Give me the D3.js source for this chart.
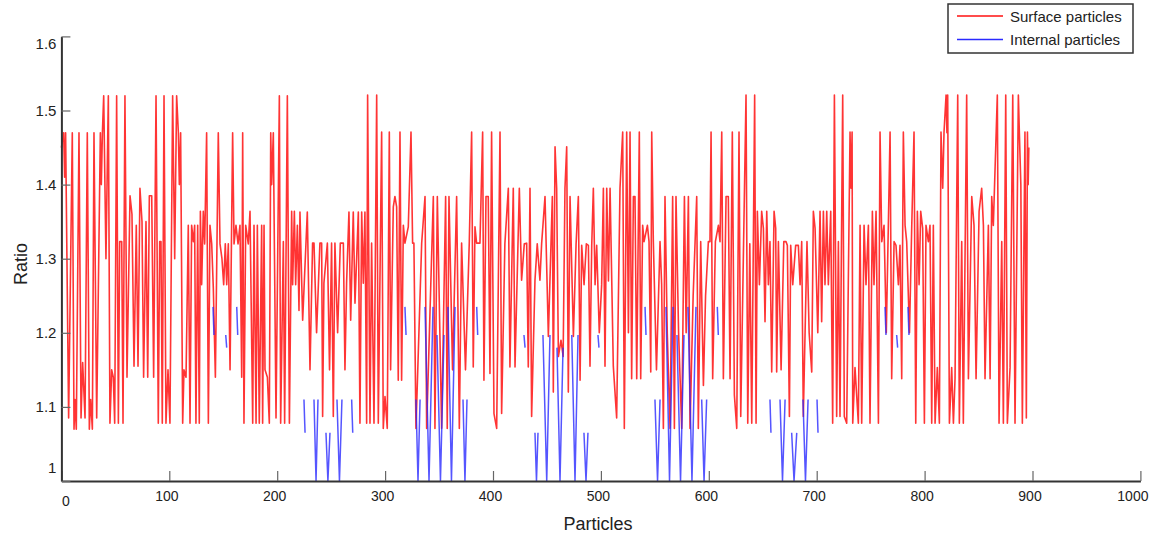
<!DOCTYPE html>
<html>
<head>
<meta charset="utf-8">
<script src="https://cdn.jsdelivr.net/npm/d3@7"></script>
<style>
    body { margin: 0; background: #fff; }
    text { font-family: "Liberation Sans", Arial, sans-serif; fill: #222; }
</style>
</head>
<body>
<svg width="1155" height="543"></svg>
<script>
const W = 1155, H = 543;

const xTicks = [0, 100, 200, 300, 400, 500, 600, 700, 800, 900, 1000];
const yTicks = [1, 1.1, 1.2, 1.3, 1.4, 1.5, 1.6];
const seriesNames = ['Surface particles', 'Internal particles'];

// Surface particles: [particle, ratio]
const surface = [
    [0,1.45],[2.1,1.47],[3,1.41],[3.9,1.47],[6.7,1.085],[10.1,1.47],[11.7,1.07],[12.6,1.11],[13.8,1.07],[16.3,1.47],
    [18.2,1.085],[19.7,1.16],[21.9,1.085],[24,1.47],[25.9,1.07],[27.1,1.11],[28.7,1.07],[30.2,1.47],[32.7,1.085],[36.1,1.47],
    [37,1.40],[38,1.47],[39.2,1.52],[41.3,1.30],[43.5,1.52],[45,1.078],[46.6,1.15],[48.1,1.14],[49.4,1.078],[51.2,1.52],
    [52.8,1.078],[54,1.323],[55.9,1.323],[57.1,1.078],[58.9,1.52],[60.8,1.14],[63.6,1.385],[65.4,1.36],[67.3,1.155],[69.4,1.345],
    [71,1.155],[72.8,1.395],[74.7,1.35],[76.2,1.14],[78.4,1.35],[80,1.14],[81.5,1.385],[83.7,1.385],[85.5,1.14],[87.7,1.52],
    [89.8,1.078],[91.1,1.323],[92.3,1.323],[93.5,1.078],[95.1,1.52],[96.9,1.078],[98.8,1.15],[100.6,1.078],[103.1,1.52],[105,1.30],
    [106.8,1.52],[108.4,1.47],[109.3,1.40],[110.5,1.47],[112.4,1.078],[113.6,1.15],[115.5,1.14],[117.6,1.345],[119.2,1.078],[120.7,1.345],
    [122.3,1.323],[123.5,1.345],[124.7,1.078],[126.3,1.345],[127.8,1.078],[128.8,1.364],[130,1.265],[131.5,1.364],[132.8,1.32],[134.6,1.47],
    [136.2,1.078],[137.7,1.345],[139.3,1.32],[140.8,1.26],[142.7,1.14],[145.4,1.47],[147,1.32],[148.8,1.30],[150.4,1.265],[151.9,1.32],
    [153.2,1.265],[154.7,1.32],[156.3,1.15],[158.7,1.47],[160,1.32],[161.8,1.345],[163.7,1.32],[165.5,1.345],[167.1,1.14],[168,1.47],
    [169.2,1.078],[170.8,1.345],[173.2,1.32],[174.8,1.364],
    [177.3,1.078],[178.5,1.345],[180.4,1.078],[181.6,1.345],[183.4,1.078],[185.6,1.345],[186.5,1.078],[187.8,1.345],[188.7,1.15],[190.9,1.14],
    [192.7,1.078],[194,1.47],[194.9,1.40],[196.4,1.47],[198.9,1.085],[202,1.52],[203.2,1.078],[205.7,1.323],[206.9,1.078],[209.4,1.52],
    [211.3,1.078],[213.4,1.364],[214.3,1.265],[215.9,1.364],[217.1,1.265],[218.7,1.345],[220.2,1.23],
    [221.1,1.363],[223.6,1.217],[227.9,1.363],[230.4,1.15],[232.8,1.321],[234.1,1.321],[236.5,1.2],[239.6,1.321],[241.2,1.321],[242.1,1.087],
    [243.3,1.267],[246.5,1.321],[248.5,1.15],[250.4,1.321],[252,1.087],[253.5,1.321],[256,1.2],[258.5,1.321],[261.3,1.321],[262.8,1.15],
    [264.3,1.267],[266.5,1.363],[268.1,1.217],[270.5,1.363],[272.1,1.24],[275.2,1.363],[276.7,1.078],[278.3,1.363],[279.8,1.267],[281.3,1.363],
    [282.9,1.078],[283.8,1.521],[286,1.078],[287.5,1.321],[289.7,1.078],[292.2,1.521],[293.7,1.078],[296.8,1.471],[298.3,1.071],[299.9,1.114],
    [302,1.071],[303.9,1.471],[305.1,1.15],[307.6,1.37],[309.1,1.384],[310.7,1.37],[312.2,1.136],[313.8,1.471],[315.3,1.136],[316.9,1.345],
    [318.4,1.321],[321.5,1.343],[324,1.471],[325.5,1.321],[326.7,1.321],[328.6,1.071],[333.9,1.321],[337,1.384],[338.5,1.071],[344.7,1.384],
    [346.2,1.071],[348.4,1.384],[352.4,1.071],[356.1,1.384],[357.6,1.071],[359.2,1.384],[362.5,1.15],[366.3,1.384],[368.8,1.071],[370.9,1.321],
    [374.5,1.15],[378,1.321],[380.2,1.471],[381.7,1.154],[383.3,1.343],[384.8,1.321],[387.9,1.321],[390.4,1.471],[391.6,1.136],[393.5,1.384],
    [395.6,1.384],[397.2,1.145],[398.7,1.471],[400.9,1.091],[403.4,1.071],[406.5,1.471],[408,1.091],[411,1.32],[414.2,1.395],[415.7,1.154],
    [418.8,1.395],[420.4,1.154],[424.4,1.395],[426.5,1.271],[429,1.32],[431.2,1.321],[432.7,1.154],[434.3,1.395],[435.8,1.087],[438.9,1.271],
    [441,1.32],[443.5,1.271],[445.1,1.321],[448.2,1.384],[451.3,1.195],
    [455,1.384],[455.9,1.12],[457.5,1.451],[459,1.395],[460.6,1.168],[463,1.19],[465,1.168],[466.7,1.395],[468.3,1.451],[469.8,1.12],
    [471.4,1.384],[474.5,1.195],[477,1.32],[479.1,1.384],[480.7,1.136],[482.2,1.318],[484.4,1.265],[486.5,1.32],[488.4,1.318],[489.9,1.155],
    [491.5,1.318],[493,1.395],[494.6,1.265],[496.1,1.318],[498.5,1.2],[500.7,1.265],[502.3,1.395],[503.8,1.155],[505.4,1.395],[507,1.27],
    [508.5,1.395],[511.5,1.155],[514.6,1.085],[517.7,1.395],[520.2,1.471],[521.7,1.071],[523.9,1.471],[525.5,1.2],[527,1.471],
    [528.5,1.138],[530.1,1.384],[531.6,1.384],[533.2,1.138],[535.6,1.471],[536.9,1.138],[538.7,1.345],[540,1.323],[543.1,1.345],[544.6,1.323],
    [546.2,1.147],[547.1,1.471],[548.6,1.323],[551.5,1.15],[554.8,1.323],[556.3,1.265],[557.9,1.071],[559.4,1.384],[561.5,1.2],[564.1,1.071],
    [566.5,1.384],[568.1,1.071],[569.6,1.384],[572,1.2],[574.9,1.071],[577.4,1.384],[579,1.2],[581.1,1.384],[582.6,1.071],[585.5,1.25],
    [588.8,1.384],[590.3,1.071],[592.5,1.323],[595,1.129],[597,1.25],[599.6,1.323],[601.1,1.323],[602.1,1.471],[603.6,1.138],[606.1,1.323],
    [608.9,1.345],[610.4,1.323],[612,1.471],[613.5,1.138],[616,1.384],[618.1,1.384],[619.7,1.138],[621.8,1.471],[623.7,1.116],[625.9,1.071],
    [628,1.471],[629.6,1.087],[632,1.3],[634.5,1.521],[636.1,1.078],[638,1.32],[639.8,1.078],[642.5,1.521],[643.8,1.078],[645,1.364],
    [646.9,1.265],[649,1.364],[650.6,1.341],[652.1,1.215],[653.7,1.364],[655.2,1.265],[656.7,1.323],[658.3,1.147],[660.5,1.364],[662,1.341],
    [662.9,1.147],[664.5,1.323],[667,1.15],[669.5,1.323],[671.6,1.323],[672.8,1.318],[674.7,1.087],[675.9,1.318],[677.8,1.265],[680.5,1.318],
    [683,1.318],[684.6,1.265],[686.1,1.323],[687.6,1.087],[691,1.323],[693,1.2],[695.4,1.147],[696.9,1.364],[698.5,1.341],[701,1.2],
    [703.1,1.364],[704.6,1.215],[706.2,1.364],
    [707.7,1.265],[709.3,1.364],[710.8,1.265],[713,1.364],[714.8,1.078],[716.4,1.521],[718.5,1.087],[720.1,1.323],[721.6,1.087],[724.1,1.521],
    [725.6,1.087],[727.8,1.078],[730.9,1.471],[731.8,1.395],[732.8,1.471],[733.4,1.078],[735.5,1.153],[738.6,1.078],[740.2,1.345],[741.7,1.078],
    [743.9,1.345],[745.7,1.265],[747.9,1.345],[749.4,1.078],[751.6,1.364],[753.1,1.265],[755,1.364],[757.2,1.078],[758.7,1.471],[760.3,1.323],
    [762.4,1.345],[764.5,1.2],[766.4,1.345],[768,1.471],[769.5,1.138],[771.7,1.323],[773.5,1.318],[775.7,1.265],[777.2,1.318],[778.8,1.138],
    [780.3,1.471],[781.9,1.345],[783.4,1.323],[786,1.2],[788.1,1.345],[790.2,1.471],[791.8,1.078],[793.3,1.364],[794.9,1.265],[796.4,1.364],
    [798.2,1.341],[799.8,1.078],[801.3,1.345],[803.5,1.323],[805,1.345],[806.6,1.078],[808.1,1.345],[809.7,1.078],[811.8,1.153],[813.7,1.078],
    [815.2,1.471],[816.8,1.395],[818,1.471],[819.9,1.521],[820.7,1.47],[821.4,1.521],[823,1.078],[825.1,1.153],[826.7,1.078],[828.2,1.138],
    [830.7,1.521],[832.2,1.078],[834.4,1.323],[835.9,1.078],[839,1.521],[840.6,1.138],[843.7,1.384],[845.8,1.345],[847.7,1.138],[850.5,1.364],
    [852.9,1.395],[854.5,1.345],[856,1.138],[859.1,1.345],[860.7,1.138],[862.2,1.384],[863.7,1.345],[867.4,1.521],[869,1.078],[871.5,1.323],
    [873,1.078],[875.2,1.521],[876.7,1.078],[879.2,1.153],[881.7,1.521],[883.8,1.078],[886.9,1.521],[887.8,1.471],[889.2,1.40],[890.6,1.078],
    [893,1.471],[894.3,1.085],[895.3,1.471],[896,1.40],[896.6,1.45]
];

// Internal particles: only short runs are visible, one array per run
const internal = [
    [[140.5,1.235],[141.4,1.197]],
    [[152.3,1.197],[153.2,1.18]],
    [[162.5,1.235],[163.4,1.197]],
    [[224.8,1.11],[225.8,1.065]],
    [[234.1,1.11],[236,1.0],[237.8,1.11]],
    [[245.2,1.065],[247,1.0],[248.9,1.065]],
    [[255.4,1.11],[257.7,1.0],[260,1.11]],
    [[269,1.11],[270,1.065]],
    [[318.4,1.235],[319.4,1.197]],
    [[328.6,1.11],[330.5,1.0],[332.4,1.11]],
    [[337,1.235],[340.7,1.0],[344.4,1.235]],
    [[348.1,1.197],[351.3,1.0],[354.6,1.197]],
    [[358.3,1.235],[361.5,1.0],[364.8,1.235]],
    [[372.2,1.11],[374,1.0],[375.9,1.11]],
    [[384.9,1.235],[385.8,1.197]],
    [[428.7,1.197],[429.7,1.18]],
    [[438.9,1.065],[440.3,1.0],[441.7,1.065]],
    [[446.3,1.197],[449.8,1.0],[452.8,1.197]],
    [[459.3,1.18],[462.1,1.0],[464.9,1.18]],
    [[473,1.197],[476,1.0],[478.8,1.197]],
    [[484.3,1.065],[486.2,1.0],[488,1.065]],
    [[497.3,1.197],[498.2,1.18]],
    [[540.9,1.235],[541.8,1.197]],
    [[550.1,1.11],[552.5,1.0],[554.8,1.11]],
    [[560.3,1.235],[563.6,1.0],[566.8,1.235]],
    [[570.5,1.197],[573.8,1.0],[577,1.197]],
    [[580.7,1.235],[584.4,1.0],[588.1,1.235]],
    [[593.4,1.11],[595.6,1.0],[598,1.11]],
    [[607.9,1.235],[608.8,1.197]],
    [[656.7,1.11],[657.6,1.065]],
    [[666,1.11],[668.3,1.0],[670.7,1.11]],
    [[676.8,1.065],[679,1.0],[681.5,1.065]],
    [[687.3,1.11],[689.6,1.0],[692,1.11]],
    [[700.3,1.11],[701.2,1.065]],
    [[763.3,1.235],[764.2,1.197]],
    [[774.1,1.197],[775,1.18]],
    [[784.6,1.235],[785.5,1.197]]
];

const RED = '#ff1010', BLUE = '#2a2aff', AXIS = '#333';

const svg = d3.select('svg');

const x = d3.scaleLinear().domain([0, 1000]).range([61.4, 1140.4]);
const y = d3.scaleLinear().domain([1, 1.6]).range([481, 36.4]);

const line = d3.line().x(d => x(d[0])).y(d => y(d[1]));

// Линии данных
svg.append('path')
    .datum(surface)
    .attr('d', line)
    .attr('fill', 'none')
    .attr('stroke', RED)
    .attr('stroke-width', 1.6)
    .attr('stroke-opacity', 0.85)
    .attr('stroke-linejoin', 'round');

svg.append('g')
    .selectAll('path')
    .data(internal)
    .join('path')
    .attr('d', line)
    .attr('fill', 'none')
    .attr('stroke', BLUE)
    .attr('stroke-width', 1.5)
    .attr('stroke-opacity', 0.8)
    .attr('stroke-linejoin', 'round');

// Оси
const xAxis = svg.append('g')
    .attr('transform', `translate(0,${y(1)})`)
    .call(d3.axisBottom(x).tickValues(xTicks).tickSizeInner(-10).tickSizeOuter(0).tickPadding(10)
        .tickFormat(d3.format('d')));

xAxis.selectAll('text')
    .attr('font-size', 14)
    .attr('dx', d => d === 1000 ? -8 : d === 0 ? 4 : -3)
    .attr('dy', d => d === 0 ? '1.1em' : '0.71em');

const yAxis = svg.append('g')
    .attr('transform', `translate(${x(0)},0)`)
    .call(d3.axisLeft(y).tickValues(yTicks).tickSizeInner(-9).tickSizeOuter(0).tickPadding(5)
        .tickFormat(d => d === 1 ? '1' : d3.format('.1f')(d)));

yAxis.selectAll('text')
    .attr('font-size', 15)
    .attr('dy', d => d === 1 ? '-0.55em' : d === 1.6 ? '0.8em' : '0.32em');

[xAxis, yAxis].forEach(g => {
    g.select('.domain').attr('stroke', AXIS).attr('stroke-width', 2);
    g.selectAll('.tick line').attr('stroke', '#666').attr('stroke-width', 1.2);
});

// Подписи осей
svg.append('text')
    .attr('x', 598)
    .attr('y', 530)
    .attr('text-anchor', 'middle')
    .attr('font-size', 18)
    .text('Particles');

svg.append('text')
    .attr('transform', 'translate(27,264) rotate(-90)')
    .attr('text-anchor', 'middle')
    .attr('font-size', 18)
    .text('Ratio');

// Легенда
const legend = svg.append('g');
legend.append('rect')
    .attr('x', 948).attr('y', 4)
    .attr('width', 185).attr('height', 49)
    .attr('fill', '#fff')
    .attr('stroke', AXIS)
    .attr('stroke-width', 1.5);

[RED, BLUE].forEach((c, i) => {
    const ly = 16 + i * 23.5;
    legend.append('line')
        .attr('x1', 957).attr('x2', 1003)
        .attr('y1', ly).attr('y2', ly)
        .attr('stroke', c)
        .attr('stroke-width', 1.4);
    legend.append('text')
        .attr('x', 1010)
        .attr('y', ly + 5.5)
        .attr('font-size', 15)
        .text(seriesNames[i]);
});
</script>
</body>
</html>
